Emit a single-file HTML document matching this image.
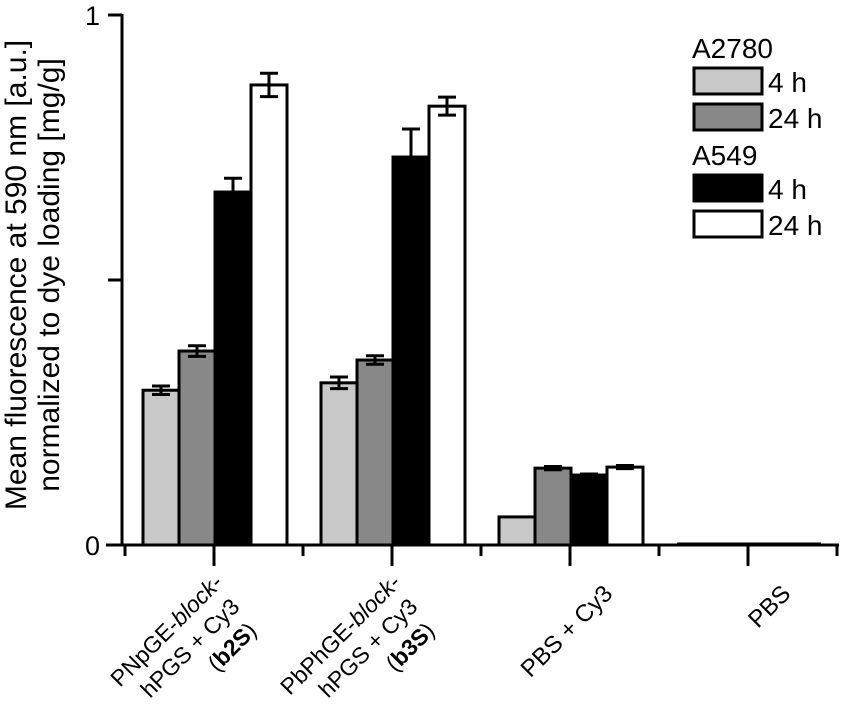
<!DOCTYPE html>
<html><head><meta charset="utf-8"><style>
body{margin:0;background:#fff}
svg{display:block;font-family:"Liberation Sans",Arial,sans-serif}
</style></head><body>
<svg id="chart" width="841" height="714" viewBox="0 0 841 714">
<g id="axes"></g>
<g id="bars"></g>
<g id="labels"></g>
<text transform="translate(26,275) rotate(-90)" text-anchor="middle" font-size="30"><tspan x="0" y="0">Mean fluorescence at 590 nm [a.u.]</tspan><tspan x="0" y="33">normalized to dye loading [mg/g]</tspan></text>
<g font-size="28">
<text x="692" y="58">A2780</text>
<rect x="694" y="68" width="68" height="26" fill="#c8c8c8" stroke="#000" stroke-width="3"/>
<text x="768" y="92">4 h</text>
<rect x="694" y="104" width="68" height="26" fill="#888" stroke="#000" stroke-width="3"/>
<text x="768" y="128">24 h</text>
<text x="692" y="165">A549</text>
<rect x="694" y="175" width="68" height="26" fill="#000" stroke="#000" stroke-width="3"/>
<text x="768" y="199">4 h</text>
<rect x="694" y="211" width="68" height="26" fill="#fff" stroke="#000" stroke-width="3"/>
<text x="768" y="235">24 h</text>
</g>
</svg>
<script>
const categories=["PNpGE-block-hPGS + Cy3 (b2S)","PbPhGE-block-hPGS + Cy3 (b3S)","PBS + Cy3","PBS"];
const a2780_4h=[0.292,0.306,0.053,0];
const a2780_24h=[0.366,0.349,0.145,0];
const a549_4h=[0.666,0.732,0.132,0];
const a549_24h=[0.868,0.828,0.147,0];
const err_a2780_4h=[0.008,0.011,0,0];
const err_a2780_24h=[0.01,0.008,0.003,0];
const err_a549_4h=[0.026,0.053,0.002,0];
const err_a549_24h=[0.022,0.017,0.003,0];
const yTicks=[0,0.5,1];
const yTickLabels=["0","","1"];

const NS="http://www.w3.org/2000/svg";
const x0=125,groupW=178,y0=545,yScale=530;
const y=v=>y0-v*yScale;
const gx=i=>x0+i*groupW;
function mk(tag,attrs,parent){const e=document.createElementNS(NS,tag);for(const k in attrs)e.setAttribute(k,attrs[k]);parent.appendChild(e);return e;}
const axes=document.getElementById('axes'),bars=document.getElementById('bars'),labels=document.getElementById('labels');

const series=[[a2780_4h,err_a2780_4h,"#c8c8c8","a2780-4h"],[a2780_24h,err_a2780_24h,"#888","a2780-24h"],[a549_4h,err_a549_4h,"#000","a549-4h"],[a549_24h,err_a549_24h,"#fff","a549-24h"]];
const bw=36;
categories.forEach((c,i)=>{
  const start=gx(i)+18;
  series.forEach((s,j)=>{
    const v=s[0][i],e=s[1][i];
    const bx=start+j*bw;
    if(v>0){
      const r=mk('rect',{x:bx,y:y(v),width:bw,height:y0-y(v),fill:s[2],stroke:"#000","stroke-width":3},bars);
      
      
    }
    if(e>0){
      const cx=bx+bw/2;
      const g=mk('path',{d:`M${cx},${y(v+e)}V${y(v)}M${cx-9},${y(v+e)}H${cx+9}M${cx},${y(v-e)}V${y(v)}M${cx-9},${y(v-e)}H${cx+9}`,stroke:"#000","stroke-width":3,fill:"none"},bars);
      
      
    }
  });
  if(i===3){
    const l=mk('line',{x1:start,x2:start+4*bw,y1:y0-1,y2:y0-1,stroke:"#000","stroke-width":3},bars);
    
    
  }
});

let a=mk('line',{x1:122,x2:122,y1:14,y2:546,stroke:"#000","stroke-width":3},axes);


a=mk('line',{x1:106,x2:839,y1:545,y2:545,stroke:"#000","stroke-width":3},axes);


yTicks.forEach((t,k)=>{
  const tk=mk('line',{x1:108,x2:122,y1:y(t),y2:y(t),stroke:"#000","stroke-width":3},axes);
  
  
  if(yTickLabels[k]!==""){
    const tx=mk('text',{x:100,y:y(t)+10,"text-anchor":"end","font-size":"27"},axes);
    tx.textContent=yTickLabels[k];
    
    
  }
});
for(let i=0;i<=4;i++){
  const tk=mk('line',{x1:gx(i),x2:gx(i),y1:545,y2:556,stroke:"#000","stroke-width":3},axes);
  
  
}
for(let i=0;i<4;i++){
  const cx=gx(i)+groupW/2;
  const tk=mk('line',{x1:cx,x2:cx,y1:545,y2:566,stroke:"#000","stroke-width":3},axes);
  
  
}

const labelHTML=[
  ['PNpGE-<tspan font-style="italic">block</tspan>-','hPGS + Cy3','(<tspan font-weight="bold">b2S</tspan>)'],
  ['PbPhGE-<tspan font-style="italic">block</tspan>-','hPGS + Cy3','(<tspan font-weight="bold">b3S</tspan>)'],
  ['PBS + Cy3'],
  ['PBS']
];
labelHTML.forEach((lines,i)=>{
  const multi=lines.length>1;
  const cx=gx(i)+groupW/2+(multi?10:44);
  const cy=multi?584:595;
  const t=mk('text',{transform:`translate(${cx},${cy}) rotate(-45)`,"text-anchor":"end","font-size":multi?"23":"24"},labels);
  
  
  let html='';
  lines.forEach((ln,k)=>{html+=`<tspan x="${-k*5}" y="${k*29}">${ln}</tspan>`;});
  t.innerHTML=html;
});
</script>
</body></html>
